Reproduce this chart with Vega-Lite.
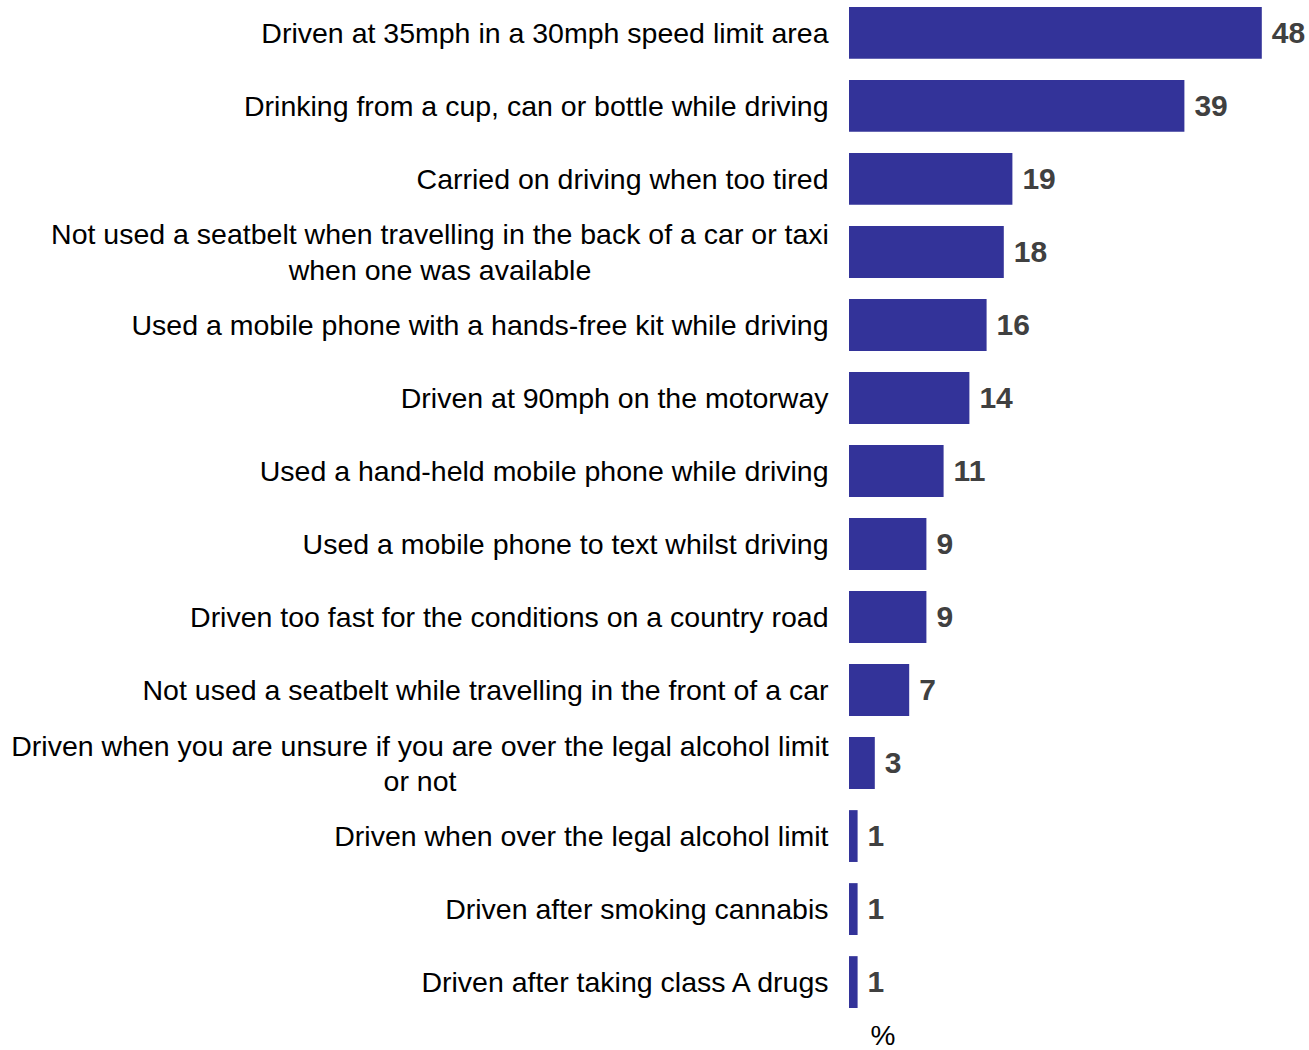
{
  "$schema": "https://vega.github.io/schema/vega-lite/v6.json",
  "width": 430,
  "height": 1015,
  "padding": {"left": 10, "top": 0, "right": 4, "bottom": 0},
  "background": "white",
  "config": {"view": {"stroke": null}, "font": "Liberation Sans"},
  "data": {
    "values": [
      {"behaviour": "Driven at 35mph in a 30mph speed limit area", "pct": 48},
      {"behaviour": "Drinking from a cup, can or bottle while driving", "pct": 39},
      {"behaviour": "Carried on driving when too tired", "pct": 19},
      {"behaviour": "Not used a seatbelt when travelling in the back of a car or taxi|when one was available", "pct": 18},
      {"behaviour": "Used a mobile phone with a hands-free kit while driving", "pct": 16},
      {"behaviour": "Driven at 90mph on the motorway", "pct": 14},
      {"behaviour": "Used a hand-held mobile phone while driving", "pct": 11},
      {"behaviour": "Used a mobile phone to text whilst driving", "pct": 9},
      {"behaviour": "Driven too fast for the conditions on a country road", "pct": 9},
      {"behaviour": "Not used a seatbelt while travelling in the front of a car", "pct": 7},
      {"behaviour": "Driven when you are unsure if you are over the legal alcohol limit|or not", "pct": 3},
      {"behaviour": "Driven when over the legal alcohol limit", "pct": 1},
      {"behaviour": "Driven after smoking cannabis", "pct": 1},
      {"behaviour": "Driven after taking class A drugs", "pct": 1}
    ]
  },
  "encoding": {
    "y": {
      "field": "behaviour",
      "type": "nominal",
      "sort": null,
      "scale": {"paddingInner": 0.29, "paddingOuter": 0.096},
      "axis": {
        "title": null,
        "domain": false,
        "ticks": false,
        "labelPadding": {"condition": [
          {"test": "indexof(datum.value, 'back of a car') >= 0", "value": 409.5},
          {"test": "indexof(datum.value, 'unsure') >= 0", "value": 429.5}
        ], "value": 21},
        "labelAlign": {"condition": {"test": "indexof(datum.value, '|') >= 0", "value": "center"}, "value": "right"},
        "labelFontSize": 28.5,
        "labelColor": "#000000",
        "labelLimit": 0,
        "labelLineHeight": 35.5,
        "labelOffset": {"condition": {"test": "indexof(datum.value, '|') >= 0", "value": -16.5}, "value": 1},
        "labelExpr": "split(datum.label, '|')"
      }
    },
    "x": {
      "field": "pct",
      "type": "quantitative",
      "scale": {"domain": [0, 50]},
      "axis": {
        "labels": false,
        "ticks": false,
        "domain": false,
        "grid": false,
        "title": "%",
        "titleFontSize": 28,
        "titleFontWeight": "normal",
        "titleColor": "#000000",
        "titleAnchor": "start",
        "titleAlign": "left",
        "titleX": 21,
        "titleY": 29,
        "titleBaseline": "alphabetic"
      }
    }
  },
  "layer": [
    {"mark": {"type": "bar", "color": "#333399"}},
    {
      "mark": {"type": "text", "align": "left", "baseline": "middle", "dx": 10, "dy": 1, "fontSize": 30, "fontWeight": "bold", "color": "#404040"},
      "encoding": {"text": {"field": "pct", "type": "quantitative"}}
    }
  ]
}
